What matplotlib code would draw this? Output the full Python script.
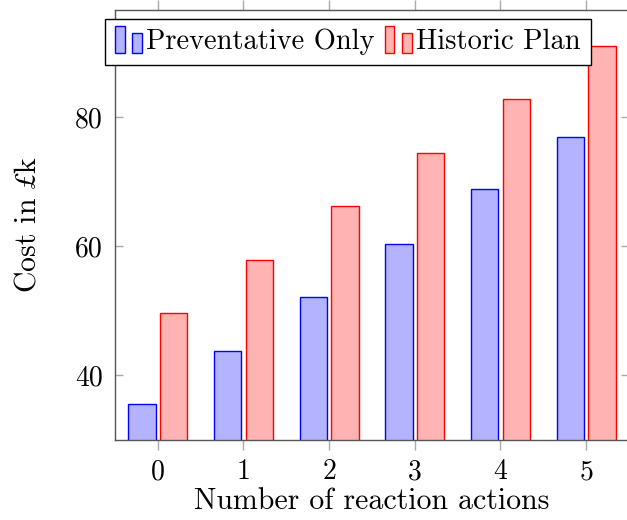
import numpy as np
import matplotlib
matplotlib.use("Agg")
import matplotlib.pyplot as plt
from matplotlib.legend_handler import HandlerBase
from matplotlib.patches import Rectangle

plt.rcParams['font.family'] = ['cmr10', 'STIXGeneral', 'DejaVu Serif']
# custom mathtext so the pound sign comes from STIX italic (cm fonts map it to Theta)
plt.rcParams['mathtext.fontset'] = 'custom'
plt.rcParams['mathtext.rm'] = 'cmr10'
plt.rcParams['mathtext.sf'] = 'STIXGeneral:italic'
plt.rcParams['font.size'] = 20

# data
actions = [0, 1, 2, 3, 4, 5]
preventative = [35.5, 43.8, 52.2, 60.4, 68.8, 76.9]
historic = [49.7, 57.9, 66.3, 74.5, 82.8, 91.1]
labels = ['Preventative Only', 'Historic Plan']

BLUE_FILL = '#b3b3ff'
RED_FILL = '#ffb3b3'


class TwoBars(HandlerBase):
    # pgfplots-like ybar legend icon: two small bars
    def create_artists(self, legend, orig_handle, xdescent, ydescent,
                       width, height, fontsize, trans):
        fc = orig_handle.get_facecolor()
        ec = orig_handle.get_edgecolor()
        bw = width * 0.36
        y0 = -ydescent - 0.2 * height
        r1 = Rectangle((-xdescent, y0), bw, height * 1.4,
                       facecolor=fc, edgecolor=ec, lw=1.0, transform=trans)
        r2 = Rectangle((-xdescent + width - bw, y0), bw, height * 1.05,
                       facecolor=fc, edgecolor=ec, lw=1.0, transform=trans)
        return [r1, r2]


fig = plt.figure(figsize=(6.27, 5.2), dpi=100)
ax = fig.add_axes([115 / 627, 80 / 520, 514 / 627, 430 / 520])

x = np.array(actions)
w = 0.32
b1 = ax.bar(x - 0.185, preventative, w, color=BLUE_FILL, edgecolor='blue', linewidth=1.0, label=labels[0])
b2 = ax.bar(x + 0.185, historic, w, color=RED_FILL, edgecolor='red', linewidth=1.0, label=labels[1])

ax.set_xlim(-0.5, 5.5)
ax.set_ylim(30, 96.6)
ax.set_xticks(actions)
ax.set_yticks([40, 60, 80])

for s in ax.spines.values():
    s.set_color('#555555')
    s.set_linewidth(1.0)

ax.tick_params(axis='x', which='both', direction='out', top=True, bottom=True,
               length=7.5, color='#aaaaaa', width=1.0, pad=6)
ax.tick_params(axis='y', which='both', direction='in', left=True, right=True,
               length=6, color='#aaaaaa', width=1.0, pad=9)

ax.set_xlabel('Number of reaction actions', fontsize=21.5, labelpad=2)
ax.set_ylabel(r'Cost in $\mathsf{£}$k', fontsize=21.5, labelpad=24)

leg = fig.legend([b1.patches[0], b2.patches[0]], labels,
                 handler_map={Rectangle: TwoBars()},
                 loc='upper left', bbox_to_anchor=(105 / 627, 1 - 19 / 520),
                 ncol=2, frameon=True, fancybox=False, framealpha=1,
                 edgecolor='black', borderaxespad=0, borderpad=0.35,
                 handlelength=0.95, handletextpad=0.15, columnspacing=0.35,
                 fontsize=20.5)
leg.get_frame().set_linewidth(1.0)

fig.savefig('out.png', dpi=100)
